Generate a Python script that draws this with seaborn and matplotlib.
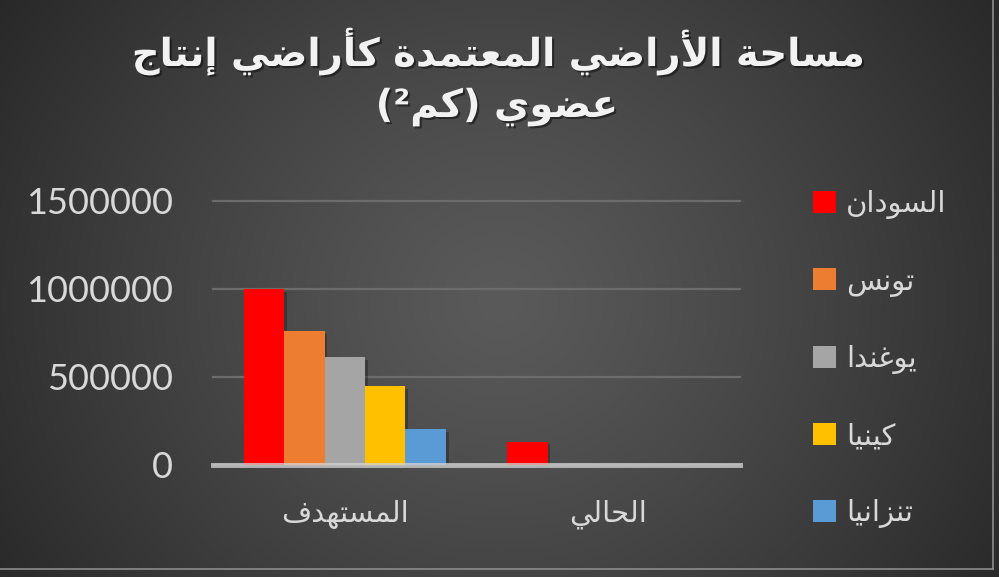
import numpy as np
import pandas as pd
import matplotlib
matplotlib.use("Agg")
import matplotlib.pyplot as plt
import matplotlib.patheffects as pe
from matplotlib.patches import Patch
from matplotlib.lines import Line2D
import seaborn as sns

# ---------------- data ----------------
categories = ["المستهدف", "الحالي"]
countries = ["السودان", "تونس", "يوغندا", "كينيا", "تنزانيا"]
target_values = [1000000, 760000, 614000, 448000, 202000]
current_values = [133000, 0, 0, 0, 0]
y_ticks = [0, 500000, 1000000, 1500000]
y_tick_labels = ["0", "500000", "1000000", "1500000"]
title_line1 = "مساحة الأراضي المعتمدة كأراضي إنتاج"
title_line2 = "عضوي (كم²)"
colors = ["#FF0000", "#ED7D31", "#A5A5A5", "#FFC000", "#5B9BD5"]

# ---------------- minimal Arabic shaping (presentation forms) ----------------
FORMS = {
    "\u0627": ("\uFE8D", "\uFE8E", None, None),
    "\u0623": ("\uFE83", "\uFE84", None, None),
    "\u0625": ("\uFE87", "\uFE88", None, None),
    "\u0629": ("\uFE93", "\uFE94", None, None),
    "\u062A": ("\uFE95", "\uFE96", "\uFE97", "\uFE98"),
    "\u062C": ("\uFE9D", "\uFE9E", "\uFE9F", "\uFEA0"),
    "\u062D": ("\uFEA1", "\uFEA2", "\uFEA3", "\uFEA4"),
    "\u062F": ("\uFEA9", "\uFEAA", None, None),
    "\u0631": ("\uFEAD", "\uFEAE", None, None),
    "\u0632": ("\uFEAF", "\uFEB0", None, None),
    "\u0633": ("\uFEB1", "\uFEB2", "\uFEB3", "\uFEB4"),
    "\u0636": ("\uFEBD", "\uFEBE", "\uFEBF", "\uFEC0"),
    "\u0639": ("\uFEC9", "\uFECA", "\uFECB", "\uFECC"),
    "\u063A": ("\uFECD", "\uFECE", "\uFECF", "\uFED0"),
    "\u0641": ("\uFED1", "\uFED2", "\uFED3", "\uFED4"),
    "\u0643": ("\uFED9", "\uFEDA", "\uFEDB", "\uFEDC"),
    "\u0644": ("\uFEDD", "\uFEDE", "\uFEDF", "\uFEE0"),
    "\u0645": ("\uFEE1", "\uFEE2", "\uFEE3", "\uFEE4"),
    "\u0646": ("\uFEE5", "\uFEE6", "\uFEE7", "\uFEE8"),
    "\u0647": ("\uFEE9", "\uFEEA", "\uFEEB", "\uFEEC"),
    "\u0648": ("\uFEED", "\uFEEE", None, None),
    "\u064A": ("\uFEF1", "\uFEF2", "\uFEF3", "\uFEF4"),
    "\uFEFB": ("\uFEFB", "\uFEFC", None, None),
    "\uFEF7": ("\uFEF7", "\uFEF8", None, None),
    "\uFEF9": ("\uFEF9", "\uFEFA", None, None),
}


def shape(s):
    for a, lig in (("\u0644\u0627", "\uFEFB"), ("\u0644\u0623", "\uFEF7"), ("\u0644\u0625", "\uFEF9")):
        s = s.replace(a, lig)
    out = []
    for i, c in enumerate(s):
        if c not in FORMS:
            out.append(c)
            continue
        prev = s[i - 1] if i > 0 else None
        nxt = s[i + 1] if i < len(s) - 1 else None
        jp = prev in FORMS and FORMS[prev][2] is not None
        jn = nxt in FORMS and FORMS[c][2] is not None
        iso, fin, ini, med = FORMS[c]
        out.append(med if (jp and jn) else fin if jp else ini if jn else iso)
    return "".join(out)


def ar(s):
    # visual order for a right-to-left line, with mirrored brackets
    return shape(s)[::-1].translate(str.maketrans("()", ")("))


# ---------------- figure ----------------
W, H, DPI = 999, 577, 100
plt.rcParams["font.family"] = ["DejaVu Sans"]
fig = plt.figure(figsize=(W / DPI, H / DPI), dpi=DPI)

# radial gradient background
bg = fig.add_axes([0, 0, 1, 1], zorder=-10)
yy, xx = np.mgrid[0:H, 0:W]
r = np.sqrt(((xx - 500) / 600.0) ** 2 + ((yy - 300) / 560.0) ** 2)
r = np.clip(r, 0, 1)
v = (0x5A - (0x5A - 0x28) * r ** 1.2) / 255.0
bg.imshow(np.dstack([v, v, v]), extent=[0, W, H, 0], aspect="auto", interpolation="bilinear")
bg.set_xlim(0, W)
bg.set_ylim(H, 0)
bg.axis("off")
bg.add_line(Line2D([993, 993], [0, 569], color="#8c8c8c", lw=1.2))
bg.add_line(Line2D([0, 993], [569, 569], color="#8c8c8c", lw=1.2))

ax = fig.add_axes([213 / W, 1 - 465 / H, (740 - 213) / W, (465 - 201) / H])
ax.set_facecolor("none")

df = pd.DataFrame({
    "category": [ar(c) for c in categories for _ in countries],
    "country": [ar(k) for _ in categories for k in countries],
    "value": target_values + current_values,
})

sns.barplot(data=df, x="category", y="value", hue="country",
            order=[ar(c) for c in categories], hue_order=[ar(k) for k in countries],
            palette=colors, saturation=1, width=0.767, errorbar=None,
            legend=False, ax=ax, zorder=3, linewidth=0)

for p in ax.patches:
    p.set_path_effects([pe.SimplePatchShadow(offset=(2, -2), shadow_rgbFace="black", alpha=0.25),
                        pe.Normal()])

ax.set_xlim(-0.5, 1.5)
ax.set_ylim(0, 1500000)
ax.set_yticks(y_ticks)
ax.set_yticklabels(y_tick_labels, family="Lato", fontsize=26, color="#d9d9d9")
ax.yaxis.grid(True, color="#6c6c6c", lw=1.6, zorder=0)
ax.xaxis.grid(False)
ax.set_axisbelow(True)
for gl in ax.get_ygridlines():
    gl.set_clip_on(False)
for s in ax.spines.values():
    s.set_visible(False)
ax.tick_params(axis="y", length=0, pad=29)
ax.tick_params(axis="x", length=0, pad=25, labelsize=21, labelcolor="#d9d9d9")
ax.set_xlabel("")
ax.set_ylabel("")
ax.axhline(0, color="#d4d4d4", lw=3.6, alpha=0.75, zorder=6, clip_on=False)

# legend
handles = [Patch(facecolor=c, edgecolor="none") for c in colors]
leg = fig.legend(handles, [ar(k) for k in countries], loc="center left",
                 bbox_to_anchor=(813 / W, 1 - 359 / H), frameon=False,
                 fontsize=21, handlelength=0.78, handleheight=0.78,
                 handletextpad=0.35, labelspacing=1.66, borderpad=0, borderaxespad=0)
for t in leg.get_texts():
    t.set_color("#d9d9d9")

# title
shadow = [pe.SimplePatchShadow(offset=(1.5, -1.5), shadow_rgbFace="black", alpha=0.45), pe.Normal()]
t1 = fig.text(499 / W, 1 - 66 / H, ar(title_line1), ha="center", va="baseline",
              fontsize=24, fontweight="bold", color="#f2f2f2", path_effects=shadow)
t2 = fig.text(497 / W, 1 - 117 / H, ar(title_line2), ha="center", va="baseline",
              fontsize=24, fontweight="bold", color="#f2f2f2", path_effects=shadow)

fig.canvas.draw()
rend = fig.canvas.get_renderer()
w1 = t1.get_window_extent(rend).width
fs = 24 * 736 / w1
t1.set_fontsize(fs)
t2.set_fontsize(fs)

fig.savefig("out.png", dpi=DPI)
